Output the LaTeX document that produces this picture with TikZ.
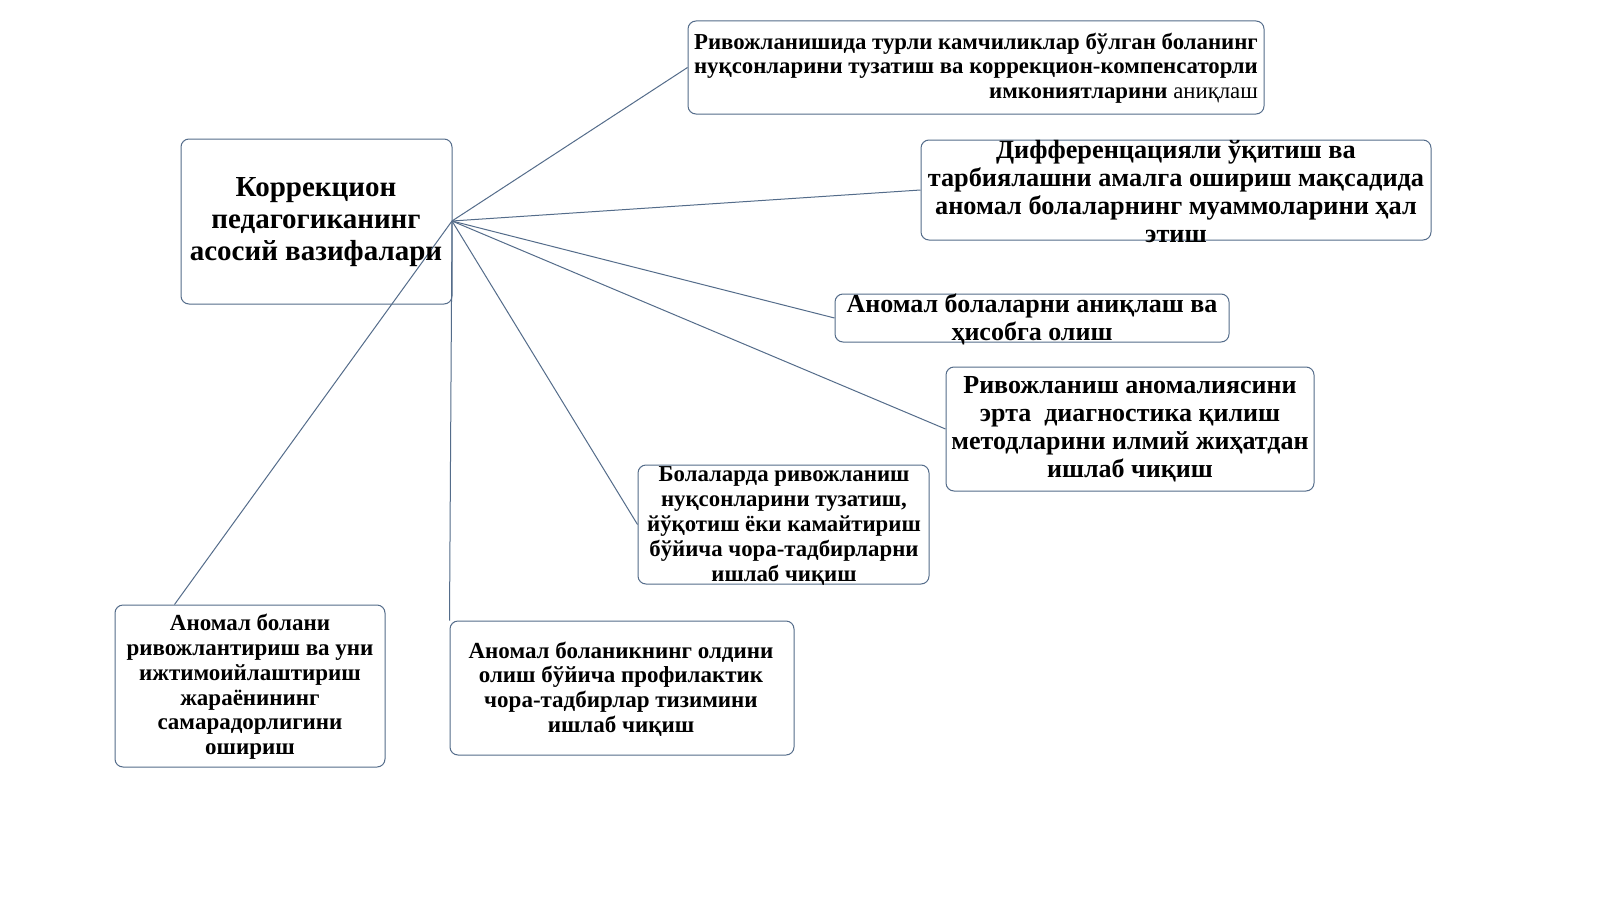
\documentclass[tikz,border=0pt]{standalone}
\usepackage{fontspec}
\setmainfont{Liberation Serif}
\definecolor{edge}{RGB}{84,108,138}
\begin{document}
\begin{tikzpicture}[x=1pt,y=-1pt,
 box/.style={draw=edge,line width=1pt,rounded corners=8pt,inner sep=0pt},
 txt/.style={font=\bfseries,inner sep=0pt,align=center},
 ln/.style={draw=edge,line width=1pt}]
\useasboundingbox (0,0) rectangle (1600,899);
\fill[white] (0,0) rectangle (1600,899);
\newcommand{\bx}[5]{\node[box,minimum width=#3-#1,minimum height=#4-#2] (#5) at ({(#1+#3)/2},{(#2+#4)/2}) {};}
\bx{181}{139}{452}{304}{main}
\bx{688}{21}{1264}{114}{t1}
\bx{921}{140}{1431}{240}{t2}
\bx{835}{294}{1229}{342}{t3}
\bx{946}{367}{1314}{491}{t4}
\bx{638}{465}{929}{584}{t5}
\bx{115}{605}{385}{767}{t6}
\bx{450}{621}{794}{755}{t7}
\coordinate (hub) at (452,221);
\draw[ln] (hub) -- (t1.west);
\draw[ln] (hub) -- (t2.west);
\draw[ln] (hub) -- (t3.west);
\draw[ln] (hub) -- (t4.west);
\draw[ln] (hub) -- (t5.west);
\draw[ln] (hub) -- (t7.north west);
\draw[ln] (hub) -- ([xshift=60pt]t6.north west);
\node[txt,font=\fontsize{29}{32}\selectfont\bfseries] (m) at (316,222) {Коррекцион\\педагогиканинг\\асосий вазифалари};
\node[txt,align=right,font=\fontsize{22.8}{24.5}\selectfont\bfseries] (a1) at (976,68) {Ривожланишида турли камчиликлар бўлган боланинг\\нуқсонларини тузатиш ва коррекцион-компенсаторли\\имкониятларини \mdseries аниқлаш};
\node[txt,font=\fontsize{26.3}{28}\selectfont\bfseries] (a2) at (1176,191) {Дифференцацияли ўқитиш ва\\тарбиялашни амалга ошириш мақсадида\\аномал болаларнинг муаммоларини ҳал\\этиш};
\node[txt,font=\fontsize{26}{28}\selectfont\bfseries] (a3) at (1032,319) {Аномал болаларни аниқлаш ва\\ҳисобга олиш};
\node[txt,font=\fontsize{26}{28}\selectfont\bfseries] (a4) at (1130,429) {Ривожланиш аномалиясини\\эрта\ \ диагностика қилиш\\методларини илмий жиҳатдан\\ишлаб чиқиш};
\node[txt,font=\fontsize{22.8}{25}\selectfont\bfseries] (a5) at (784,526) {Болаларда ривожланиш\\нуқсонларини тузатиш,\\йўқотиш ёки камайтириш\\бўйича чора-тадбирларни\\ишлаб чиқиш};
\node[txt,font=\fontsize{23}{24.8}\selectfont\bfseries] (a6) at (250,687) {Аномал болани\\ривожлантириш ва уни\\ижтимоийлаштириш\\жараёнининг\\самарадорлигини\\ошириш};
\node[txt,font=\fontsize{23}{24.7}\selectfont\bfseries] (a7) at (621,689) {Аномал боланикнинг олдини\\олиш бўйича профилактик\\чора-тадбирлар тизимини\\ишлаб чиқиш};
\end{tikzpicture}
\end{document}
